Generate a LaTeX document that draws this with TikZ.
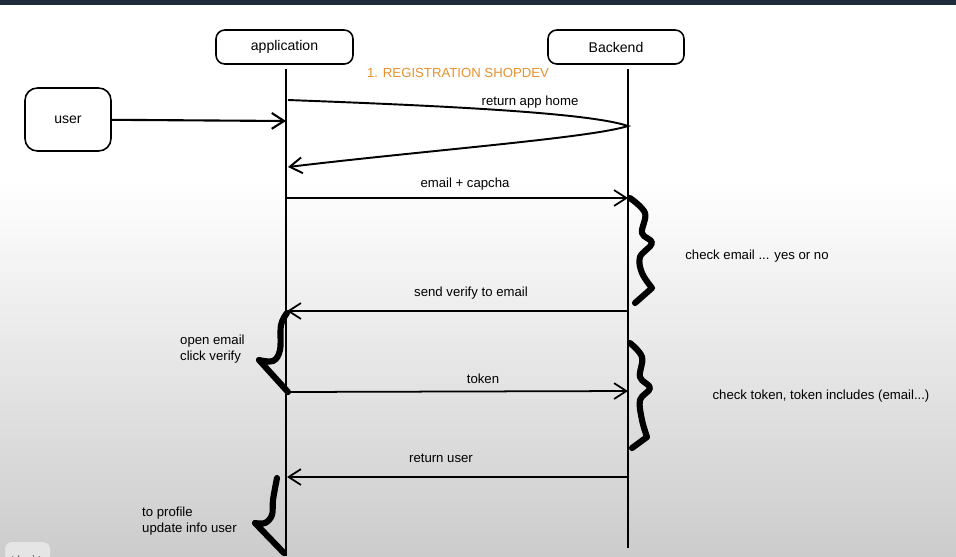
\documentclass[tikz,border=0pt]{standalone}
\usepackage{fontspec}
\setmainfont{Liberation Sans}
\usetikzlibrary{arrows.meta}
\definecolor{band}{HTML}{1E2B3A}
\definecolor{titlecol}{HTML}{E8912D}

\begin{document}
\begin{tikzpicture}[x=0.02cm,y=-0.02cm,
  box/.style={draw,rounded corners=5pt,line width=0.9pt,font=\fontsize{8}{9}\selectfont},
  life/.style={line width=0.8pt},
  msg/.style={line width=1pt,-{Straight Barb[length=7pt,width=9pt]}},
  brace/.style={line width=3.5pt,line cap=round,line join=round},
  lbl/.style={font=\fontsize{7.5}{9}\selectfont},
  note/.style={font=\fontsize{7.5}{9}\selectfont,align=left}]
  \useasboundingbox (0,0) rectangle (956,556);
  \fill[white] (0,0) rectangle (956,556);
  \shade[top color=white,bottom color=black!20] (0,180) rectangle (956,556);
  \fill[band] (0,0) rectangle (956,5);

  \node[box,minimum width=2.74cm,minimum height=0.68cm] (app) at (284.5,47) {application};
  \node[box,minimum width=2.72cm,minimum height=0.68cm] (back) at (616,47) {Backend};
  \node[box,minimum width=1.72cm,minimum height=1.26cm,rounded corners=7pt] (user) at (68,119.5) {user};

  \coordinate (a) at (286,69);
  \coordinate (b) at (286,556);
  \coordinate (c) at (628,69);
  \coordinate (d) at (628,548);
  \coordinate (e) at (286,121);
  \coordinate (f) at (288,100);
  \coordinate (g) at (628,126);
  \coordinate (h) at (288,167);
  \coordinate (i) at (286,198);
  \coordinate (j) at (628,198);
  \coordinate (k) at (628,311);
  \coordinate (l) at (287,311);
  \coordinate (m) at (288,392);
  \coordinate (n) at (628,391);
  \coordinate (o) at (628,477);
  \coordinate (p) at (287,477);

  \node[lbl,text=titlecol] (title) at (458,73) {1. REGISTRATION SHOPDEV};
  \node[lbl] (home) at (530,102) {return app home};
  \node[lbl] (email) at (465,184) {email + capcha};
  \node[note] (check) at (757,256) {check email ... yes or no};
  \node[lbl] (verify) at (471,293) {send verify to email};
  \node[note,anchor=west] (open) at (174,349) {open email\\click verify};
  \node[lbl] (token) at (483,379) {token};
  \node[note] (checkt) at (821,396) {check token, token includes (email...)};
  \node[lbl] (ruser) at (441,458) {return user};
  \node[note,anchor=west] (prof) at (136,521) {to profile\\update info user};

  \draw[life] (a) -- (b);
  \draw[life] (c) -- (d);
  \draw[msg,line width=1.2pt] (user) -- (e);
  \draw[msg,line width=1.1pt] (f) .. controls (450,106) and (590,113) .. (g)
    .. controls (590,138) and (430,150) .. (h);
  \draw[msg] (i) -- (j);
  \draw[msg] (k) -- (l);
  \draw[msg] (m) -- (n);
  \draw[msg] (o) -- (p);

  \draw[brace] plot[smooth,tension=0.6] coordinates {(630,198) (645,213) (642,233) (652,243) (640,257) (642,273) (652,288)} -- (635,303);
  \draw[brace] plot[smooth,tension=0.6] coordinates {(630,343) (642,357) (640,377) (650,388) (640,400) (642,420) (647,437)} -- (632,448);
  \draw[brace] plot[smooth,tension=0.6] coordinates {(287,313) (281,325) (280,350) (273,361) (259,360)} -- (288,392);
  \draw[brace] plot[smooth,tension=0.6] coordinates {(277,478) (273,500) (272,515) (265,523) (255,523)} -- (284,553);

  \fill[black!10,rounded corners=4pt] (5,542) rectangle (50,562);
  \draw[black!55,line width=0.5pt,-{Straight Barb[length=1.5pt,width=3pt]}] (19,555) arc[start angle=0,end angle=160,radius=3.5];
  \draw[black!55,line width=0.5pt,-{Straight Barb[length=1.5pt,width=3pt]}] (33,555) arc[start angle=180,end angle=20,radius=3.5];
\end{tikzpicture}
\end{document}
